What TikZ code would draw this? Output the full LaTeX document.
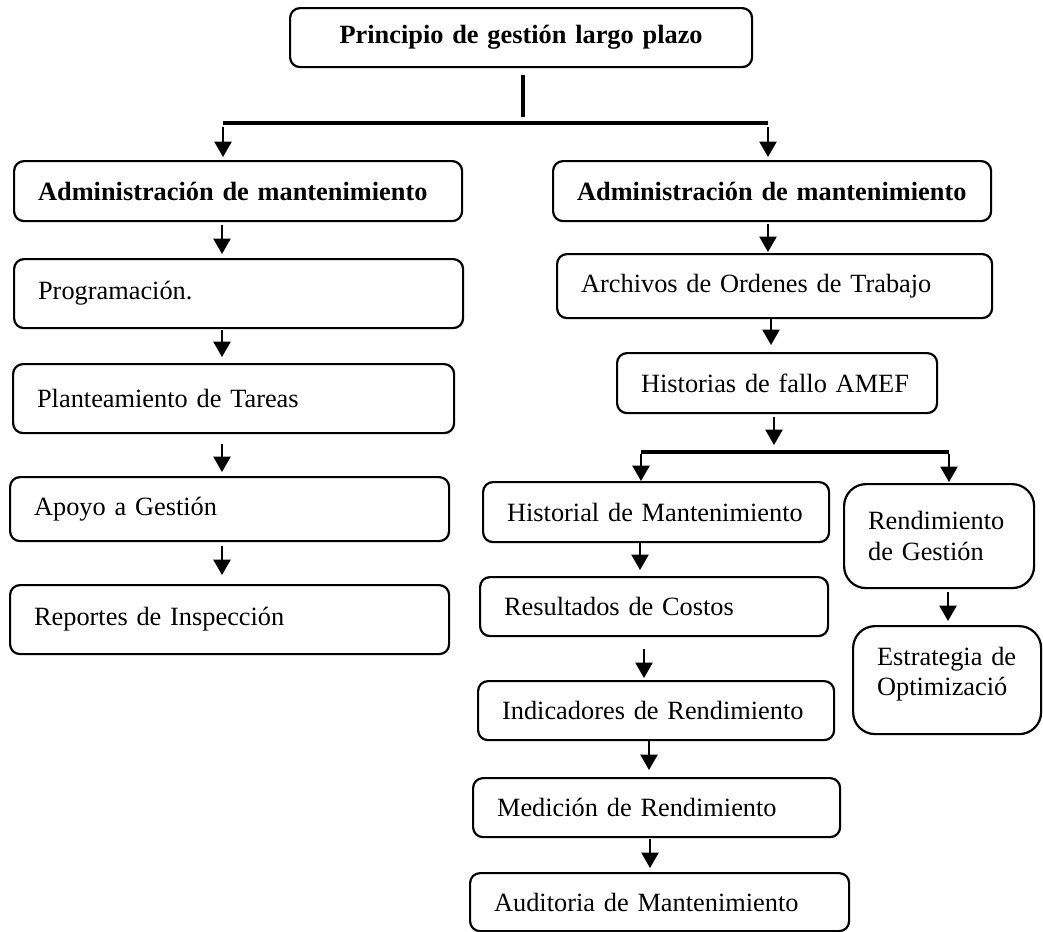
\documentclass[tikz,border=0pt]{standalone}
\usepackage{fontspec}
\setmainfont{Liberation Serif}
\usetikzlibrary{arrows.meta}
\begin{document}
\begin{tikzpicture}
[x=0.016cm,y=-0.016cm,
 every node/.style={font=\fontsize{12}{14}\selectfont},
 caja/.style 2 args={draw, line width=1pt, rounded corners=4.5pt, anchor=north west,
   inner xsep=0.384cm, inner ysep=0pt, text width=#1*0.016cm-0.768cm,
   minimum height=#2*0.016cm, align=left},
 redonda/.style={rounded corners=10pt},
 negrita/.style={font=\fontsize{12}{14}\selectfont\bfseries},
 flecha/.style={line width=.9pt, -{Triangle[width=7.8pt,length=7pt]}},
 huecos/.style 2 args={shorten <=#1*0.016cm, shorten >=#2*0.016cm},
 barra/.style={line width=1.8pt}]
\useasboundingbox (0,0) rectangle (1043,931);

% cabecera
\node[caja={462}{59}, negrita, align=center] (top) at (289,7) {Principio de gestión largo plazo};
\coordinate (ramL) at (223,123);
\coordinate (ramR) at (768,123);

% rama izquierda
\node[caja={448}{60}, negrita] (admL) at (13,160) {Administración de mantenimiento};
\node[caja={449}{69}] (prog) at (13,258) {Programación.};
\node[caja={441}{69}] (plan) at (12,363) {Planteamiento de Tareas};
\node[caja={439}{64}] (apoyo) at (9,476) {Apoyo a Gestión};
\node[caja={439}{69}] (rep) at (9,584) {Reportes de Inspección};

% rama derecha
\node[caja={438}{60}, negrita] (admR) at (552,160) {Administración de mantenimiento};
\node[caja={435}{64}] (arch) at (556,253) {Archivos de Ordenes de Trabajo};
\node[caja={320}{60}] (hist) at (616,352) {Historias de fallo AMEF};
\coordinate (bifL) at (641,452);
\coordinate (bifR) at (949,452);
\node[caja={346}{60}] (histm) at (482,481) {Historial de Mantenimiento};
\node[caja={348}{59}] (res) at (479,576) {Resultados de Costos};
\node[caja={356}{59}] (ind) at (477,680) {Indicadores de Rendimiento};
\node[caja={367}{59}] (med) at (472,777) {Medición de Rendimiento};
\node[caja={379}{58}] (aud) at (469,872) {Auditoria de Mantenimiento};
\node[caja={190}{104}, redonda] (rend) at (843,483) {Rendimiento\\de Gestión};
\node[caja={188}{108}, redonda] (estr) at (852,625) {Estrategia de\\Optimizació\\[-6pt]\mbox{}};

% conectores
\draw[barra, huecos={7}{6}] (top.south -| 523,0) -- (ramL -| 523,0);
\draw[barra] (ramL) -- (ramR);
\draw[flecha, huecos={4}{3}] (ramL) -- (admL.north -| ramL);
\draw[flecha, huecos={4}{3}] (ramR) -- (admR.north -| ramR);
\foreach \a/\b/\s/\e in {admL/prog/3/4, prog/plan/1/6, plan/apoyo/10/4, apoyo/rep/4/9}
  \draw[flecha, huecos={\s}{\e}] (\a.south -| 222,0) -- (\b.north -| 222,0);
\draw[flecha, huecos={2}{1}] (admR.south -| 768,0) -- (arch.north -| 768,0);
\draw[flecha, huecos={0}{7}] (arch.south -| 771,0) -- (hist.north -| 771,0);
\draw[flecha, huecos={3}{7}] (hist.south -| 774,0) -- (bifL -| 774,0);
\draw[barra] (bifL) -- (bifR);
\draw[flecha, huecos={2}{0}] (bifL) -- (histm.north -| bifL);
\draw[flecha, huecos={2}{1}] (bifR) -- (rend.north -| bifR);
\draw[flecha, huecos={3}{4}] (rend.south -| 948,0) -- (estr.north -| 948,0);
\foreach \a/\b/\x/\s/\e in {histm/res/640/0/6, res/ind/644/12/2, ind/med/649/0/7, med/aud/650/1/4}
  \draw[flecha, huecos={\s}{\e}] (\a.south -| \x,0) -- (\b.north -| \x,0);
\end{tikzpicture}
\end{document}
